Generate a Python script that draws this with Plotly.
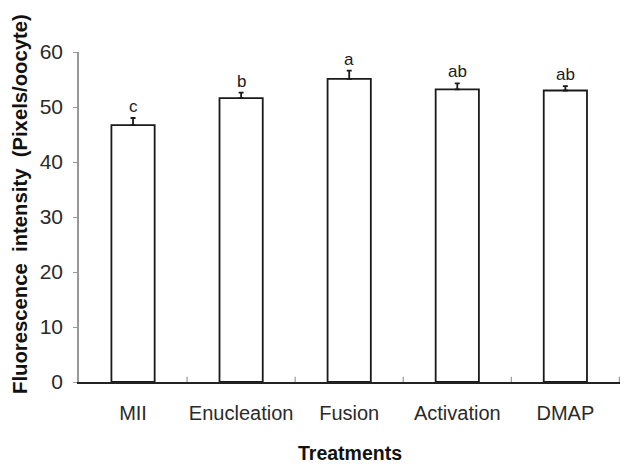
import plotly.graph_objects as go

categories = ["MII", "Enucleation", "Fusion", "Activation", "DMAP"]
means = [46.7, 51.6, 55.1, 53.2, 53.0]
errors = [1.3, 1.0, 1.5, 1.1, 0.8]
letters = ["c", "b", "a", "ab", "ab"]
y_ticks = [0, 10, 20, 30, 40, 50, 60]

font_family = "Liberation Sans, Arial, sans-serif"

fig = go.Figure()
fig.add_trace(go.Bar(
    x=categories, y=means, width=0.4,
    marker=dict(color="white", line=dict(color="#1a1a1a", width=1.8)),
    error_y=dict(type="data", array=errors, arrayminus=[0]*len(errors), symmetric=False,
                 color="#1a1a1a", thickness=1.8, width=2.5),
    showlegend=False,
))

for c, m, e, l in zip(categories, means, errors, letters):
    fig.add_annotation(x=c, y=m + e, text=l, showarrow=False, yanchor="bottom", yshift=0,
                       font=dict(family=font_family, size=17, color="#1a1a1a"))

# axis titles as annotations for precise placement
fig.add_annotation(xref="paper", yref="paper", x=0, y=(382 - 204) / 330, xshift=-59,
                   text="Fluorescence  intensity  (Pixels/oocyte)", textangle=-90,
                   showarrow=False, xanchor="center", yanchor="middle",
                   font=dict(family=font_family, size=20.3, color="#111111", weight="bold"))
fig.add_annotation(xref="paper", yref="paper", x=0.5, y=0, yshift=-71,
                   text="Treatments", showarrow=False, xanchor="center", yanchor="middle",
                   font=dict(family=font_family, size=19.5, color="#111111", weight="bold"))

fig.update_layout(
    width=622, height=459,
    margin=dict(l=71, r=10, t=44, b=85),
    plot_bgcolor="white", paper_bgcolor="white",
    font=dict(family=font_family, color="#222222"),
)
fig.update_xaxes(
    showline=True, linecolor="#222222", linewidth=1.5,
    ticks="", tickfont=dict(size=20, color="#2a2a2a"), ticklabelstandoff=12,
    showgrid=False,
)
fig.update_yaxes(
    range=[0, 60], tickvals=y_ticks, showline=True, linecolor="#999999", linewidth=1.5,
    ticks="outside", ticklen=4, tickcolor="#999999",
    tickfont=dict(size=21, color="#2a2a2a"), ticklabelstandoff=6,
    showgrid=False, zeroline=False,
)

# category boundary ticks on x-axis (inside)
for i in range(1, len(categories) + 1):
    fig.add_shape(type="line", xref="x", yref="paper", x0=i - 0.5, x1=i - 0.5, y0=0, y1=0.016,
                  line=dict(color="#999999", width=1.2))

fig.write_html("out.html")
